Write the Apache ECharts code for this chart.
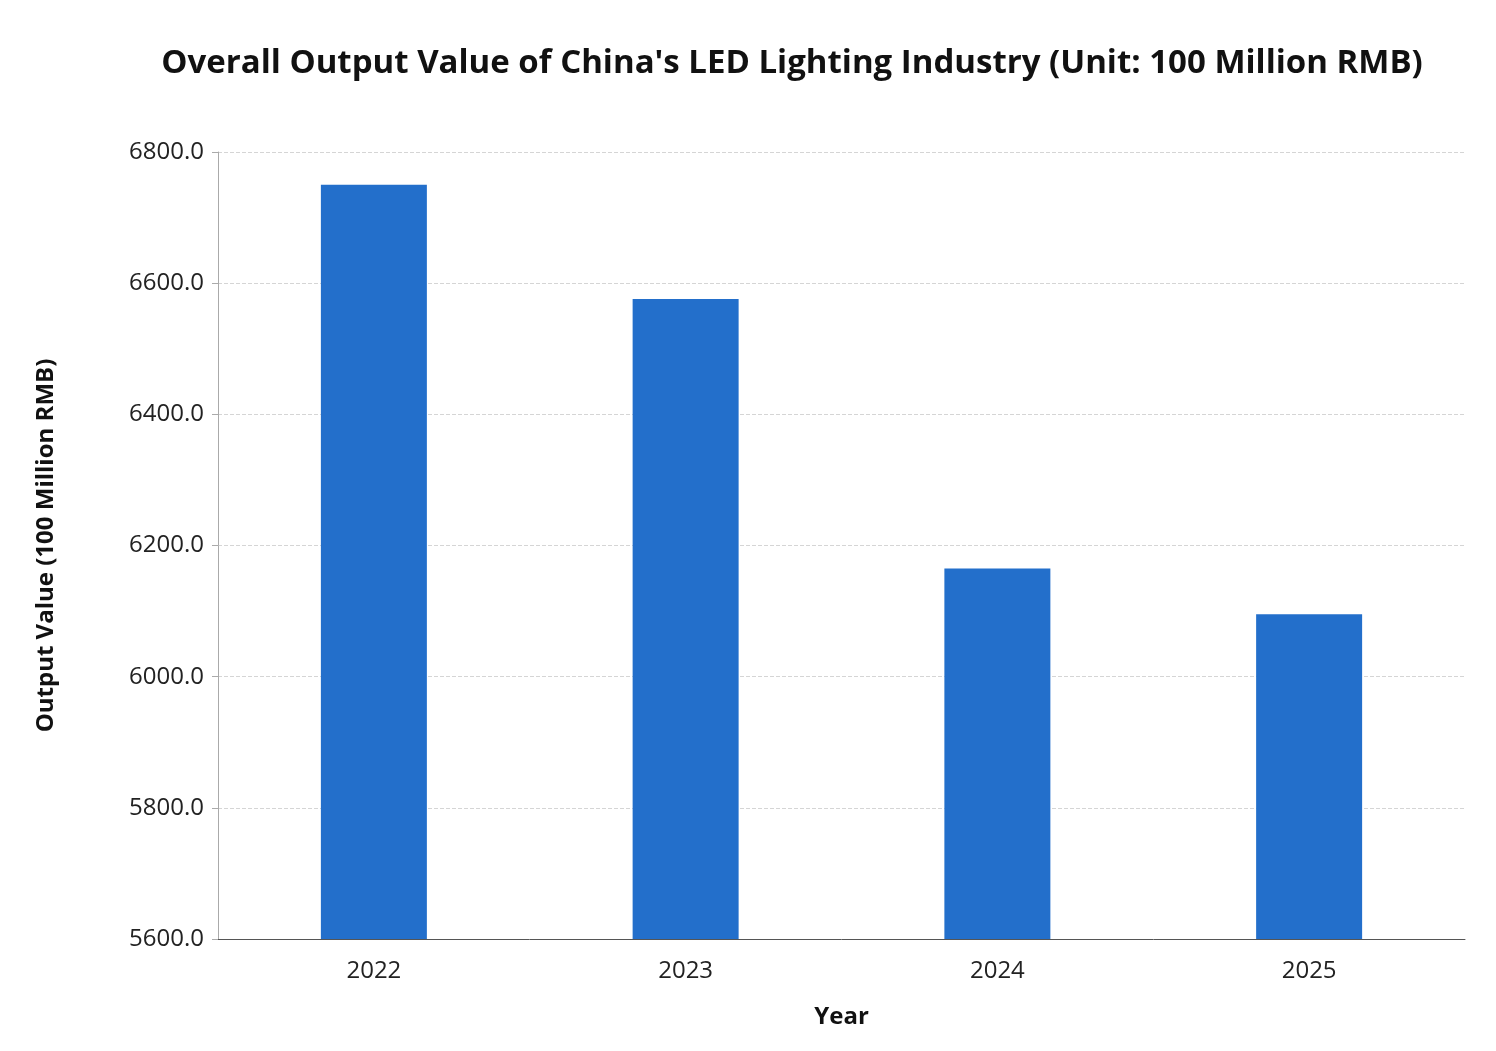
<!DOCTYPE html>
<html>
<head>
<meta charset="utf-8">
<script src="https://cdn.jsdelivr.net/npm/echarts@6/dist/echarts.min.js"></script>
<style>html,body{margin:0;padding:0;background:#fff}#chart{width:1496px;height:1051px}</style>
</head>
<body>
<div id="chart"></div>
<script>
// 数据
const years = ['2022', '2023', '2024', '2025'];
const outputValues = [6750, 6576, 6165, 6095];

let chart = echarts.init(document.getElementById('chart'));
chart.setOption({
    animation: false,
    title: {
        text: "Overall Output Value of China's LED Lighting Industry (Unit: 100 Million RMB)",
        left: 787,
        textAlign: 'center',
        top: 42,
        textStyle: { fontFamily: 'Open Sans', fontWeight: 'bold', fontSize: 33, color: '#111' }
    },
    grid: { left: 218, right: 31, top: 152, bottom: 112 },
    xAxis: {
        type: 'category',
        data: years,
        name: 'Year',
        nameLocation: 'middle',
        nameGap: 66,
        nameTextStyle: { fontFamily: 'Open Sans', fontWeight: 'bold', fontSize: 24, color: '#111' },
        axisLine: { lineStyle: { color: '#555' } },
        axisTick: { show: false },
        axisLabel: { fontFamily: 'Open Sans', fontSize: 24, color: '#222', margin: 20 }
    },
    yAxis: {
        type: 'value',
        min: 5600,
        max: 6800,
        interval: 200,
        name: 'Output Value (100 Million RMB)',
        nameLocation: 'middle',
        nameGap: 160,
        nameTextStyle: { fontFamily: 'Open Sans', fontWeight: 'bold', fontSize: 24, color: '#111' },
        axisLine: { show: true, lineStyle: { color: '#aaa' } },
        axisTick: { show: true, length: 6, lineStyle: { color: '#aaa' } },
        axisLabel: { fontFamily: 'Open Sans', fontSize: 24, color: '#222', margin: 14,
            formatter: v => v.toFixed(1) },
        splitLine: { lineStyle: { type: 'dashed', color: '#d5d5d5' } }
    },
    series: [{
        type: 'bar',
        data: outputValues,
        barWidth: '34%',
        itemStyle: { color: '#236fcb' }
    }]
});
</script>
</body>
</html>
